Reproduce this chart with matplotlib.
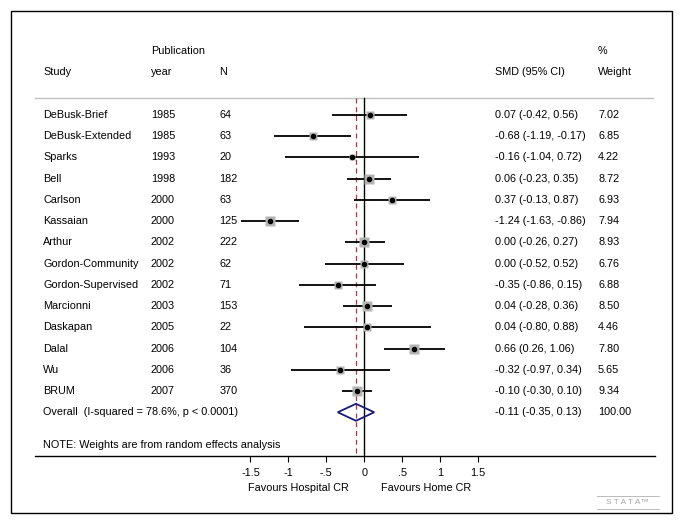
import matplotlib
matplotlib.use("Agg")
import matplotlib.pyplot as plt
import matplotlib.transforms as mtransforms
from matplotlib.patches import Rectangle, Polygon
import numpy as np

plt.rcParams['font.family'] = ['Liberation Sans', 'DejaVu Sans']

# data
studies = ['DeBusk-Brief', 'DeBusk-Extended', 'Sparks', 'Bell', 'Carlson', 'Kassaian',
           'Arthur', 'Gordon-Community', 'Gordon-Supervised', 'Marcionni', 'Daskapan',
           'Dalal', 'Wu', 'BRUM']
years = [1985, 1985, 1993, 1998, 2000, 2000, 2002, 2002, 2002, 2003, 2005, 2006, 2006, 2007]
n_pat = [64, 63, 20, 182, 63, 125, 222, 62, 71, 153, 22, 104, 36, 370]
smd = [0.07, -0.68, -0.16, 0.06, 0.37, -1.24, 0.00, 0.00, -0.35, 0.04, 0.04, 0.66, -0.32, -0.10]
ci_lo = [-0.42, -1.19, -1.04, -0.23, -0.13, -1.63, -0.26, -0.52, -0.86, -0.28, -0.80, 0.26, -0.97, -0.30]
ci_hi = [0.56, -0.17, 0.72, 0.35, 0.87, -0.86, 0.27, 0.52, 0.15, 0.36, 0.88, 1.06, 0.34, 0.10]
weights = [7.02, 6.85, 4.22, 8.72, 6.93, 7.94, 8.93, 6.76, 6.88, 8.50, 4.46, 7.80, 5.65, 9.34]
overall = (-0.11, -0.35, 0.13)
overall_label = 'Overall  (I-squared = 78.6%, p < 0.0001)'
ticks = [-1.5, -1, -0.5, 0, 0.5, 1, 1.5]
tick_labels = ['-1.5', '-1', '-.5', '0', '.5', '1', '1.5']

fig = plt.figure(figsize=(6.85, 5.28), dpi=100)
ax = fig.add_axes([0, 0, 1, 1])
ax.set_xlim(-4.800, 4.225)
ax.set_ylim(19.45, -5.417)
ax.axis('off')

# x in figure fraction, y in rows
tr = mtransforms.blended_transform_factory(fig.transFigure, ax.transData)
fs = 7.8
cols = {'study': 0.063, 'year': 0.220, 'n': 0.320, 'smd': 0.7226, 'w': 0.873}

# border
fig.patches.append(Rectangle((0.016, 0.0284), 0.965, 0.951, transform=fig.transFigure,
                             fill=False, edgecolor='black', lw=1.0))

# header
ax.text(cols['year'], -3.0, 'Publication', transform=tr, fontsize=fs, va='center')
ax.text(cols['w'], -3.0, '%', transform=tr, fontsize=fs, va='center')
for key, lab in [('study', 'Study'), ('year', 'year'), ('n', 'N'),
                 ('smd', 'SMD (95% CI)'), ('w', 'Weight')]:
    ax.text(cols[key], -2.03, lab, transform=tr, fontsize=fs, va='center')
ax.plot([0.051, 0.953], [-0.8, -0.8], transform=tr, color='#c0c0c0', lw=1.0)

rows = np.arange(len(studies))
row_ov = len(studies)
row_axis = 16.06

# reference lines
ax.plot([0, 0], [-0.8, row_axis], color='black', lw=1.0)
ax.plot([overall[0], overall[0]], [-0.8, row_axis], color='#a8394a', lw=0.9, ls=(0, (4, 3)))

# studies
ax.hlines(rows, ci_lo, ci_hi, color='black', lw=1.3, zorder=2)
for r, v, w in zip(rows, smd, weights):
    ax.plot(v, r, marker='s', ms=np.sqrt(w) * 2.4, color='#b4b4b4', mec='none', zorder=3)
ax.plot(smd, rows, 'o', color='black', ms=3.0, zorder=4)

for r, s, y, n, v, lo, hi, w in zip(rows, studies, years, n_pat, smd, ci_lo, ci_hi, weights):
    ax.text(cols['study'], r, s, transform=tr, fontsize=fs, va='center')
    ax.text(cols['year'], r, str(y), transform=tr, fontsize=fs, va='center')
    ax.text(cols['n'], r, str(n), transform=tr, fontsize=fs, va='center')
    ax.text(cols['smd'], r, f'{v:.2f} ({lo:.2f}, {hi:.2f})', transform=tr, fontsize=fs, va='center')
    ax.text(cols['w'], r, f'{w:.2f}', transform=tr, fontsize=fs, va='center')

# overall diamond
est, lo, hi = overall
ax.add_patch(Polygon([(lo, row_ov), (est, row_ov - 0.4), (hi, row_ov), (est, row_ov + 0.4)],
                     closed=True, fill=False, edgecolor='#1a1a78', lw=1.3, zorder=5))
ax.text(cols['study'], row_ov, overall_label, transform=tr, fontsize=fs, va='center')
ax.text(cols['smd'], row_ov, f'{est:.2f} ({lo:.2f}, {hi:.2f})', transform=tr, fontsize=fs, va='center')
ax.text(cols['w'], row_ov, '100.00', transform=tr, fontsize=fs, va='center')

ax.text(cols['study'], 15.54, 'NOTE: Weights are from random effects analysis',
        transform=tr, fontsize=fs, va='center')

# x axis
ax.plot([0.051, 0.956], [row_axis, row_axis], transform=tr, color='black', lw=1.0)
ax.vlines(ticks, row_axis, row_axis + 0.3, color='black', lw=0.8)
for t, lab in zip(ticks, tick_labels):
    ax.text(t, 16.86, lab, fontsize=fs, ha='center', va='center')
ax.text(-0.2, 17.57, 'Favours Hospital CR', fontsize=fs, ha='right', va='center')
ax.text(0.22, 17.57, 'Favours Home CR', fontsize=fs, ha='left', va='center')

# stata logo
for yp in (496, 509):
    fig.lines.append(plt.Line2D([0.871, 0.962], [1 - yp / 528] * 2, transform=fig.transFigure,
                                color='#b0b0b0', lw=0.6))
fig.text(0.9165, 1 - 502.5 / 528, 'S T A T A\u2122', fontsize=6, color='#a8a8a8',
         ha='center', va='center')

fig.savefig('out.png', dpi=100)
